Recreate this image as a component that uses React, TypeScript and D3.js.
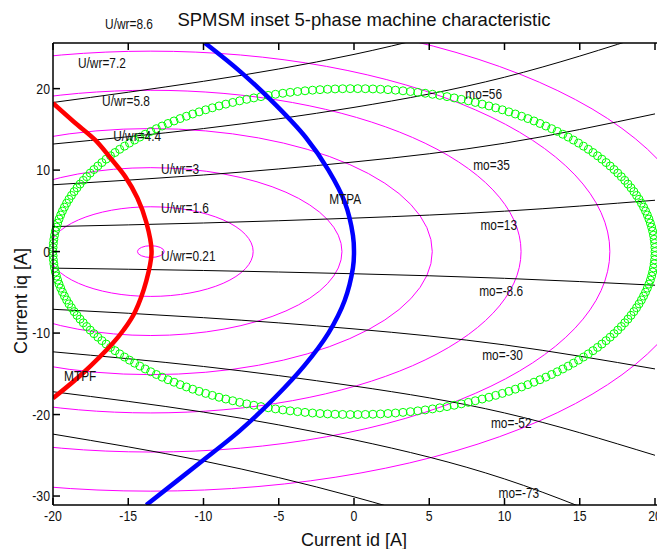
import React from 'react'
import * as d3 from 'd3'

// axis ticks
const idTicks = [-20, -15, -10, -5, 0, 5, 10, 15, 20]
const iqTicks = [-30, -20, -10, 0, 10, 20]

// constant voltage ellipses (U/wr), centre and semi axes
const ellipseCentreId = -13.5
const voltageLevels = ['0.21', '1.6', '3', '4.4', '5.8', '7.2', '8.6']
const voltageRx = [0.89, 6.8, 12.7, 18.7, 24.6, 30.5, 36.5]
const voltageRy = [0.72, 5.5, 10.3, 15.1, 19.8, 24.6, 29.4]
const voltageLabelId = [-12.82, -12.82, -12.82, -16.0, -16.74, -18.34, -16.54]
const voltageLabelIq = [-0.55, 5.3, 10.2, 14.2, 18.5, 23.1, 27.9]

// constant torque lines, iq read at these id values
const torqueGridId = [-20, -10, 0, 10, 20]
const torqueIq = [
  [18.3, 20.9, 24.2, 29.2, 36.7],
  [13.2, 15.1, 17.7, 21.4, 26.9],
  [8.2, 9.4, 11.0, 13.3, 16.9],
  [3.07, 3.51, 4.11, 4.96, 6.3],
  [-2.03, -2.32, -2.72, -3.28, -4.13],
  [-7.08, -8.11, -9.49, -11.45, -14.4],
  [-12.3, -14.1, -16.5, -19.8, -25.0],
  [-17.2, -19.7, -23.1, -27.9, -35.1],
  [-22.4, -25.7, -30.1, -36.3, -45.7]
]
const torqueLabels = ['mo=56', 'mo=35', 'mo=13', 'mo=-8.6', 'mo=-30', 'mo=-52', 'mo=-73']
const torqueLabelId = [7.4, 7.92, 8.4, 8.32, 8.52, 9.1, 9.6]
const torqueLabelIq = [19.3, 10.6, 3.25, -4.85, -12.7, -21.0, -29.6]

// MTPA (blue) and MTPF (red) trajectories
const mtpaIq = [25.6, 22, 18, 14, 10, 6, 2, 0, -2, -6, -10, -14, -18, -22, -26, -31.1]
const mtpaId = [-9.9, -7.5, -5.2, -3.2, -1.7, -0.6, -0.07, 0, -0.07, -0.62, -1.7, -3.3, -5.3, -7.6, -10.3, -13.8]
const mtpfIq = [18.2, 15.9, 13.7, 11.3, 9.2, 6.6, 3.6, 0, -3.6, -7.4, -9.6, -11.2, -14.9, -18.0]
const mtpfId = [-20, -18.6, -17.2, -16.1, -15.2, -14.4, -13.8, -13.45, -13.8, -14.55, -15.3, -16.0, -18.0, -20]

// current limit circle (green markers)
const currentLimit = 20
const currentMarkers = 250

const W = 657
const H = 549
const left = 53
const right = 655
const top = 43
const bottom = 505

const font = "'Liberation Sans', Arial, sans-serif"

// matlab's screen font is narrower than Arial, squeeze it a little
function Narrow ({ x, y, anchor, children, size }: { x: number, y: number, anchor?: string, children: React.ReactNode, size?: number }) {
  return (
    <text
      transform={`translate(${x},${y}) scale(0.82,1)`}
      dy='0.35em'
      textAnchor={anchor || 'start'}
      fontSize={size || 14.5}
    >
      {children}
    </text>
  )
}

export default function App () {
  const x = d3.scaleLinear().domain([-20, 20]).range([left, right])
  const y = d3.scaleLinear().domain([-31.1, 25.6]).range([bottom, top])

  const torquePath = d3.line<[number, number]>()
    .x(d => x(d[0]))
    .y(d => y(d[1]))
    .curve(d3.curveNatural)
  const torqueLines = torqueIq.map(vals => torquePath(vals.map((v, i) => [torqueGridId[i], v] as [number, number])))

  const trajLine = d3.line<[number, number]>()
    .x(d => x(d[0]))
    .y(d => y(d[1]))
    .curve(d3.curveCatmullRom)
  const mtpa = trajLine(mtpaIq.map((q, i) => [mtpaId[i], q] as [number, number]))
  const mtpf = trajLine(mtpfIq.map((q, i) => [mtpfId[i], q] as [number, number]))

  const markers = d3.range(currentMarkers).map(i => {
    const a = (i / currentMarkers) * 2 * Math.PI
    return [currentLimit * Math.cos(a), currentLimit * Math.sin(a)]
  })

  return (
    <svg width={W} height={H} style={{ position: 'absolute', left: 0, top: 0, background: '#fff' }}>
      <defs>
        <clipPath id='plotArea'>
          <rect x={left} y={top} width={W - left} height={bottom - top} />
        </clipPath>
      </defs>

      <g clipPath='url(#plotArea)'>
        {voltageLevels.map((lv, i) => (
          <ellipse
            key={'e' + lv}
            cx={x(ellipseCentreId)}
            cy={y(0)}
            rx={x(ellipseCentreId + voltageRx[i]) - x(ellipseCentreId)}
            ry={y(0) - y(voltageRy[i])}
            fill='none'
            stroke='#ff00ff'
            strokeWidth={1}
          />
        ))}
        {torqueLines.map((d, i) => (
          <path key={'t' + i} d={d || ''} fill='none' stroke='#000' strokeWidth={1} />
        ))}
      </g>

      {markers.map((p, i) => (
        <circle key={'m' + i} cx={x(p[0])} cy={y(p[1])} r={4} fill='none' stroke='#00ff00' strokeWidth={1} />
      ))}

      <g clipPath='url(#plotArea)'>
        <path d={mtpf || ''} fill='none' stroke='#ff0000' strokeWidth={4.5} />
        <path d={mtpa || ''} fill='none' stroke='#0000ff' strokeWidth={4.5} />
      </g>

      {/* labels */}
      <g fontFamily={font} fill='#111'>
        {voltageLevels.map((lv, i) => (
          <Narrow key={'vl' + lv} x={x(voltageLabelId[i])} y={y(voltageLabelIq[i])}>U/wr={lv}</Narrow>
        ))}
        {torqueLabels.map((t, i) => (
          <Narrow key={'tl' + i} x={x(torqueLabelId[i])} y={y(torqueLabelIq[i])}>{t}</Narrow>
        ))}
        <Narrow x={x(-1.65)} y={y(6.45)}>MTPA</Narrow>
        <Narrow x={x(-19.27)} y={y(-15.3)}>MTPF</Narrow>
      </g>

      {/* axes */}
      <g stroke='#000' strokeWidth={1.5} fill='none'>
        <line x1={left} y1={top} x2={W} y2={top} />
        <line x1={left} y1={bottom} x2={W} y2={bottom} />
        <line x1={left} y1={top} x2={left} y2={bottom} />
        {idTicks.map(t => (
          <g key={'xt' + t}>
            <line x1={x(t)} y1={bottom} x2={x(t)} y2={bottom - 7} />
            <line x1={x(t)} y1={top} x2={x(t)} y2={top + 7} />
          </g>
        ))}
        {iqTicks.map(t => (
          <line key={'yt' + t} x1={left} y1={y(t)} x2={left + 7} y2={y(t)} />
        ))}
      </g>
      <g fontFamily={font} fill='#111'>
        {idTicks.map(t => (
          <Narrow key={'xl' + t} x={x(t)} y={bottom + 11} anchor='middle' size={15}>{t}</Narrow>
        ))}
        {iqTicks.map(t => (
          <Narrow key={'yl' + t} x={left - 3} y={y(t)} anchor='end' size={15}>{t}</Narrow>
        ))}
      </g>

      <g fontFamily={font} fill='#111'>
        <text x={364} y={26} fontSize={18.5} textAnchor='middle'>SPMSM inset 5-phase machine characteristic</text>
        <text x={354} y={546} fontSize={18} textAnchor='middle'>Current id [A]</text>
        <text transform='translate(27,301) rotate(-90)' fontSize={18} textAnchor='middle'>Current iq [A]</text>
      </g>
    </svg>
  )
}
